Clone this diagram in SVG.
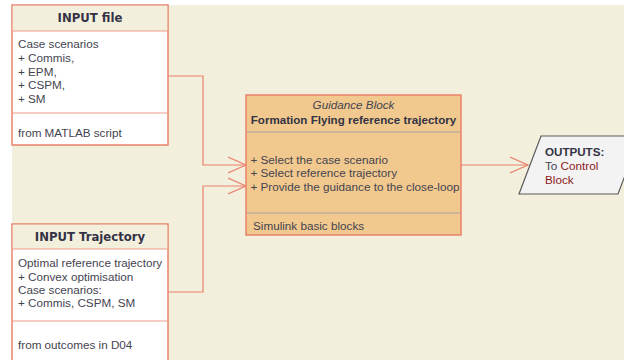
<svg xmlns="http://www.w3.org/2000/svg" width="624" height="360" viewBox="0 0 624 360">
<style>
.box{stroke:#E9826C;stroke-width:1.5}
.sep{stroke:#EE9C85;stroke-width:1.2}
.gsep{stroke:#A8A4A0;stroke-width:1.2}
.t{font-family:"Liberation Sans",Arial,sans-serif;font-size:11.7px;fill:#444450}
.title{font-family:"DejaVu Sans",Verdana,sans-serif;font-weight:bold;font-size:11.7px;fill:#333345}
.bt{font-family:"Liberation Sans",Arial,sans-serif;font-weight:bold;font-size:11.6px;fill:#333345}
.it{font-family:"Liberation Sans",Arial,sans-serif;font-style:italic;font-size:11.7px;fill:#444450}
.red{fill:#8B1A1A}
.conn{fill:none;stroke:#E9826C;stroke-width:1.2}
</style>
<defs>
<marker id="arr" markerUnits="userSpaceOnUse" markerWidth="20" markerHeight="20" viewBox="0 0 20 20" refX="18" refY="9" orient="auto">
<path d="M0,1 L18,9 L0,17" fill="none" stroke="#E9826C" stroke-width="1.2"/>
</marker>
</defs>
<rect x="12" y="5" width="612" height="355" fill="#F3EFDD"/>
<g id="connectors">
<path class="conn" d="M168,76 H203 V165 H246" marker-end="url(#arr)"/>
<path class="conn" d="M168,292 H203 V186 H246" marker-end="url(#arr)"/>
<path class="conn" d="M461,165 H528" marker-end="url(#arr)"/>
</g>
<g id="input-file">
<rect class="box" x="12" y="5" width="156" height="140" fill="#FFFFFF"/>
<rect x="12.75" y="5.75" width="154.5" height="25.25" fill="#F3EFDD"/>
<line class="sep" x1="12" y1="31" x2="168" y2="31"/>
<line class="sep" x1="12" y1="113" x2="168" y2="113"/>
<text class="title" x="90" y="22" text-anchor="middle">INPUT file</text>
<text class="t" x="18" y="47.5">Case scenarios</text>
<text class="t" x="18" y="61.5">+ Commis,</text>
<text class="t" x="18" y="75.5">+ EPM,</text>
<text class="t" x="18" y="89">+ CSPM,</text>
<text class="t" x="18" y="103">+ SM</text>
<text class="t" x="18" y="137">from MATLAB script</text>
</g>
<g id="input-trajectory">
<rect class="box" x="12" y="224" width="156" height="150" fill="#FFFFFF"/>
<rect x="12.75" y="224.75" width="154.5" height="24.25" fill="#F3EFDD"/>
<line class="sep" x1="12" y1="249" x2="168" y2="249"/>
<line class="sep" x1="12" y1="321" x2="168" y2="321"/>
<text class="title" x="90" y="241" text-anchor="middle">INPUT Trajectory</text>
<text class="t" x="18" y="267">Optimal reference trajectory</text>
<text class="t" x="18" y="280.5">+ Convex optimisation</text>
<text class="t" x="18" y="294">Case scenarios:</text>
<text class="t" x="18" y="307">+ Commis, CSPM, SM</text>
<text class="t" x="18" y="349">from outcomes in D04</text>
</g>
<g id="guidance-block">
<rect class="box" x="246" y="95" width="215" height="140" fill="#F1C98E"/>
<line class="gsep" x1="247" y1="132" x2="460" y2="132"/>
<line class="gsep" x1="247" y1="213" x2="460" y2="213"/>
<text class="it" x="353.5" y="109" text-anchor="middle">Guidance Block</text>
<text class="bt" x="353.5" y="123.5" text-anchor="middle">Formation Flying reference trajectory</text>
<text class="t" x="250.5" y="163.5">+ Select the case scenario</text>
<text class="t" x="250.5" y="177">+ Select reference trajectory</text>
<text class="t" x="250.5" y="190.5">+ Provide the guidance to the close-loop</text>
<text class="t" x="253" y="230">Simulink basic blocks</text>
</g>
<g id="outputs">
<polygon points="541,136 640,136 618,194 519,194" fill="#F3F3F3" stroke="#5A5A5A" stroke-width="1.2"/>
<text class="bt" x="545" y="156">OUTPUTS:</text>
<text class="t" x="545" y="170">To <tspan class="red">Control</tspan></text>
<text class="t red" x="545" y="183.5">Block</text>
</g>
</svg>
